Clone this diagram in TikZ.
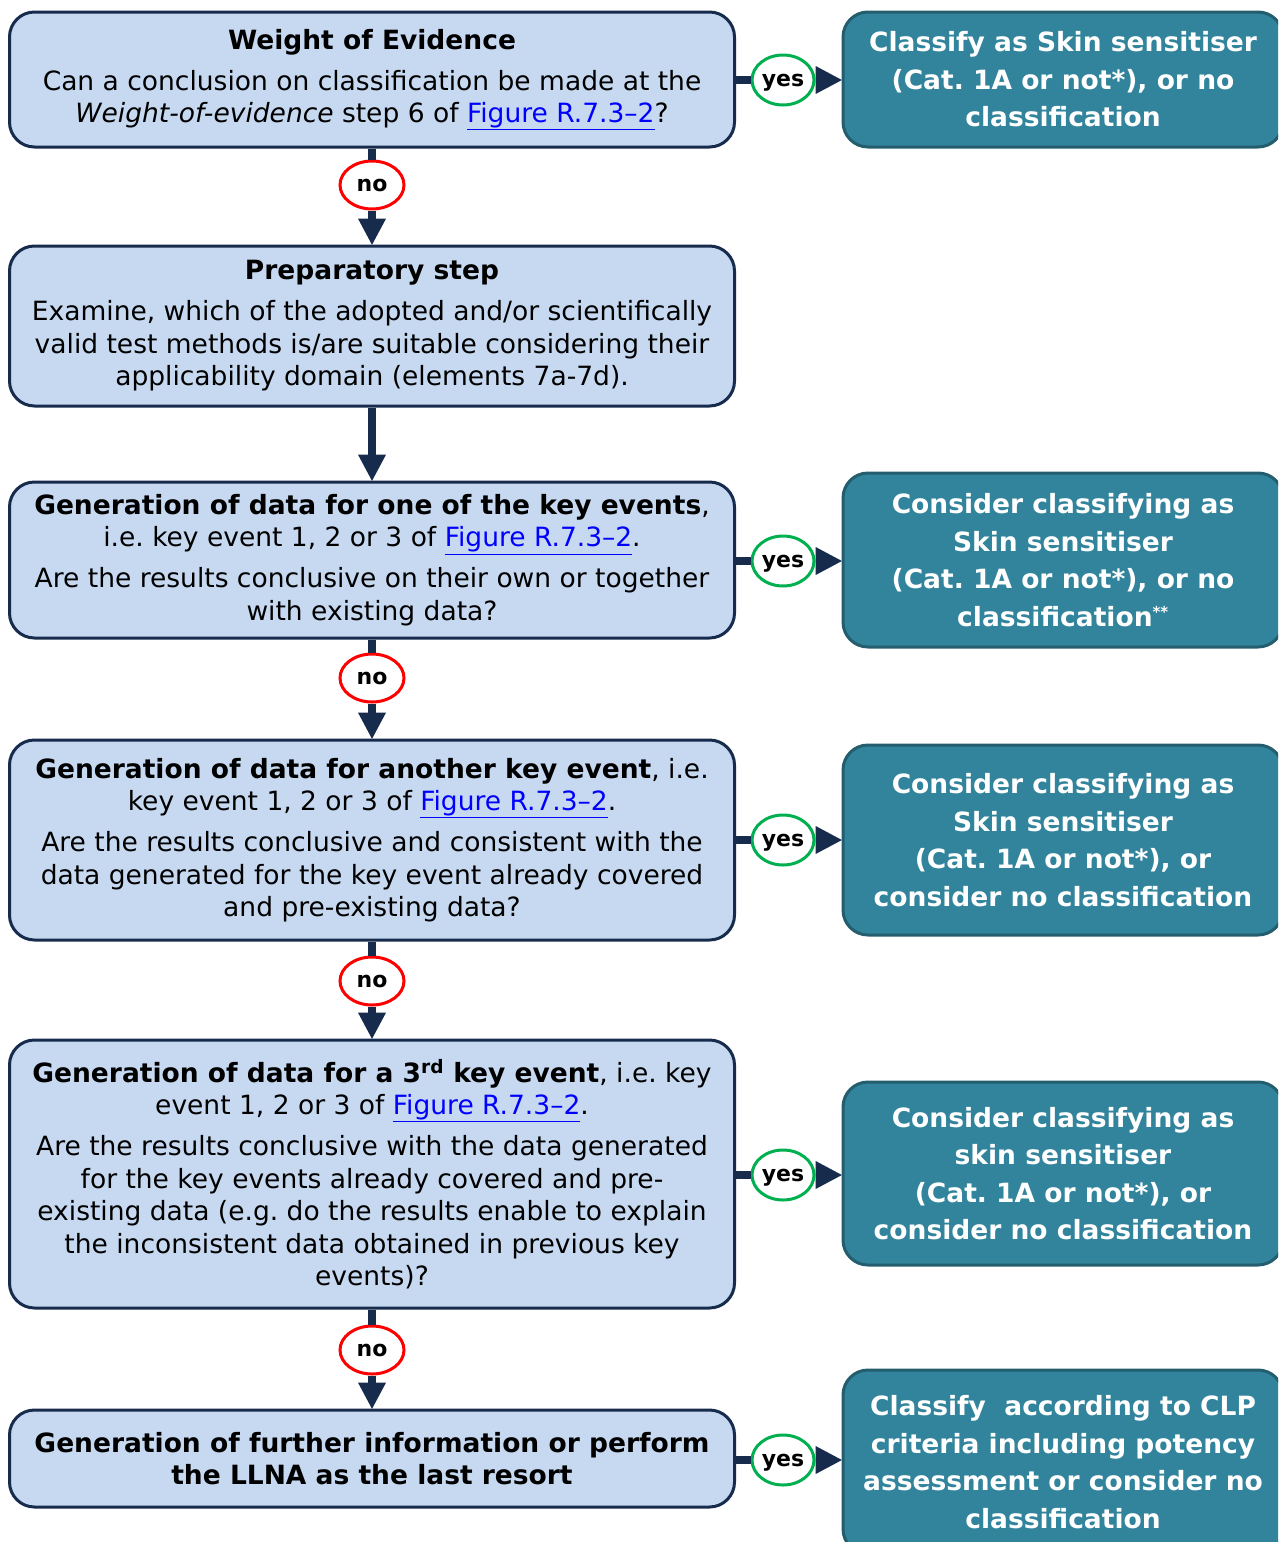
\documentclass[tikz,border=0pt]{standalone}
\usepackage{fontspec}
\setmainfont{DejaVu Sans}
\usetikzlibrary{arrows.meta,shapes.geometric}

\definecolor{paleblue}{RGB}{198,217,241}
\definecolor{navy}{RGB}{23,43,77}
\definecolor{teal}{RGB}{49,132,155}
\definecolor{tealdark}{RGB}{36,94,110}
\definecolor{yesgreen}{RGB}{0,176,80}
\definecolor{linkblue}{RGB}{0,0,255}

\newcommand{\figlink}{\textcolor{linkblue}{\underline{Figure R.7.3\textendash 2}}}
\frenchspacing

\begin{document}
\begin{tikzpicture} [x=1pt, y=-1pt,
    question/.style={draw=navy, line width=3pt, fill=paleblue, rounded corners=25pt,
                     minimum width=725pt, align=center, inner sep=0pt,
                     font=\fontsize{26.5}{32.5}\selectfont},
    outcome/.style={draw=tealdark, line width=3pt, fill=teal, rounded corners=25pt,
                    minimum width=440pt, align=center, inner sep=0pt, text=white,
                    font=\fontsize{26.5}{37.5}\selectfont\bfseries},
    nolabel/.style={ellipse, draw=red, line width=3pt, fill=white, inner sep=0pt,
                    minimum width=64pt, minimum height=48pt, font=\fontsize{22}{24}\selectfont\bfseries},
    yeslabel/.style={ellipse, draw=yesgreen, line width=3pt, fill=white, inner sep=0pt,
                     minimum width=62pt, minimum height=50pt, text depth=0pt,
                     font=\fontsize{22}{24}\selectfont\bfseries},
    flow/.style={draw=navy, line width=8pt},
    flowarrow/.style={flow, -{Triangle[length=27pt, width=26pt]}, shorten >=-1pt}]
  \clip (0,0) rectangle (1278,1542);

  % questions on the left
  \node (woe) at (372,79.5) [question, minimum height=135pt]
    {\textbf{Weight of Evidence}\\[8.5pt]
     Can a conclusion on classification be made at the\\
     \textit{Weight-of-evidence} step 6 of \figlink?};
  \node (prep) at (372,326) [question, minimum height=160pt]
    {\textbf{Preparatory step}\\[8.5pt]
     Examine, which of the adopted and/or scientifically\\
     valid test methods is/are suitable considering their\\
     applicability domain (elements 7a-7d).};
  \node (keyone) at (372,560) [question, minimum height=156pt]
    {\textbf{Generation of data for one of the key events},\\
     i.e. key event 1, 2 or 3 of \figlink.\\[8.5pt]
     Are the results conclusive on their own or together\\
     with existing data?};
  \node (keytwo) at (372,840) [question, minimum height=200pt]
    {\textbf{Generation of data for another key event}, i.e.\\
     key event 1, 2 or 3 of \figlink.\\[8.5pt]
     Are the results conclusive and consistent with the\\
     data generated for the key event already covered\\
     and pre-existing data?};
  \node (keythree) at (372,1174) [question, minimum height=268pt]
    {\textbf{Generation of data for a 3\textsuperscript{rd} key event}, i.e. key\\
     event 1, 2 or 3 of \figlink.\\[8.5pt]
     Are the results conclusive with the data generated\\
     for the key events already covered and pre-\\
     existing data (e.g. do the results enable to explain\\
     the inconsistent data obtained in previous key\\
     events)?};
  \node (further) at (372,1458.5) [question, minimum height=97pt]
    {\textbf{Generation of further information or perform}\\
     \textbf{the LLNA as the last resort}};

  % outcomes on the right
  \node (clsone) at (1063,79.5) [outcome, minimum height=135pt]
    {Classify as Skin sensitiser\\ (Cat. 1A or not*), or no\\ classification};
  \node (clstwo) at (1063,560) [outcome, minimum height=174pt]
    {Consider classifying as\\ Skin sensitiser\\ (Cat. 1A or not*), or no\\
     classification\textsuperscript{\fontsize{15}{15}\selectfont **}};
  \node (clsthree) at (1063,840) [outcome, minimum height=190pt]
    {Consider classifying as\\ Skin sensitiser\\ (Cat. 1A or not*), or\\ consider no classification};
  \node (clsfour) at (1063,1173.5) [outcome, minimum height=183pt]
    {Consider classifying as\\ skin sensitiser\\ (Cat. 1A or not*), or\\ consider no classification};
  \node (clsfive) at (1063,1462) [outcome, minimum height=184pt]
    {Classify\ \ according to CLP\\ criteria including potency\\ assessment or consider no\\ classification};

  % no branches
  \node (noone) at (372,185) [nolabel] {no};
  \node (notwo) at (372,678) [nolabel] {no};
  \node (nothree) at (372,981) [nolabel] {no};
  \node (nofour) at (372,1350) [nolabel] {no};
  \draw [flow] (woe) -- (noone);
  \draw [flowarrow] (noone) -- (prep);
  \draw [flowarrow] (prep) -- (keyone);
  \draw [flow] (keyone) -- (notwo);
  \draw [flowarrow] (notwo) -- (keytwo);
  \draw [flow] (keytwo) -- (nothree);
  \draw [flowarrow] (nothree) -- (keythree);
  \draw [flow] (keythree) -- (nofour);
  \draw [flowarrow] (nofour) -- (further);

  % yes branches
  \node (yesone) at (783,80) [yeslabel] {yes};
  \node (yestwo) at (783,561) [yeslabel] {yes};
  \node (yesthree) at (783,840) [yeslabel] {yes};
  \node (yesfour) at (783,1175) [yeslabel] {yes};
  \node (yesfive) at (783,1460) [yeslabel] {yes};
  \draw [flow] (woe.east |- yesone) -- (yesone);
  \draw [flowarrow] (yesone) -- (yesone -| clsone.west);
  \draw [flow] (keyone.east |- yestwo) -- (yestwo);
  \draw [flowarrow] (yestwo) -- (yestwo -| clstwo.west);
  \draw [flow] (keytwo.east |- yesthree) -- (yesthree);
  \draw [flowarrow] (yesthree) -- (yesthree -| clsthree.west);
  \draw [flow] (keythree.east |- yesfour) -- (yesfour);
  \draw [flowarrow] (yesfour) -- (yesfour -| clsfour.west);
  \draw [flow] (further.east |- yesfive) -- (yesfive);
  \draw [flowarrow] (yesfive) -- (yesfive -| clsfive.west);
\end{tikzpicture}
\end{document}
